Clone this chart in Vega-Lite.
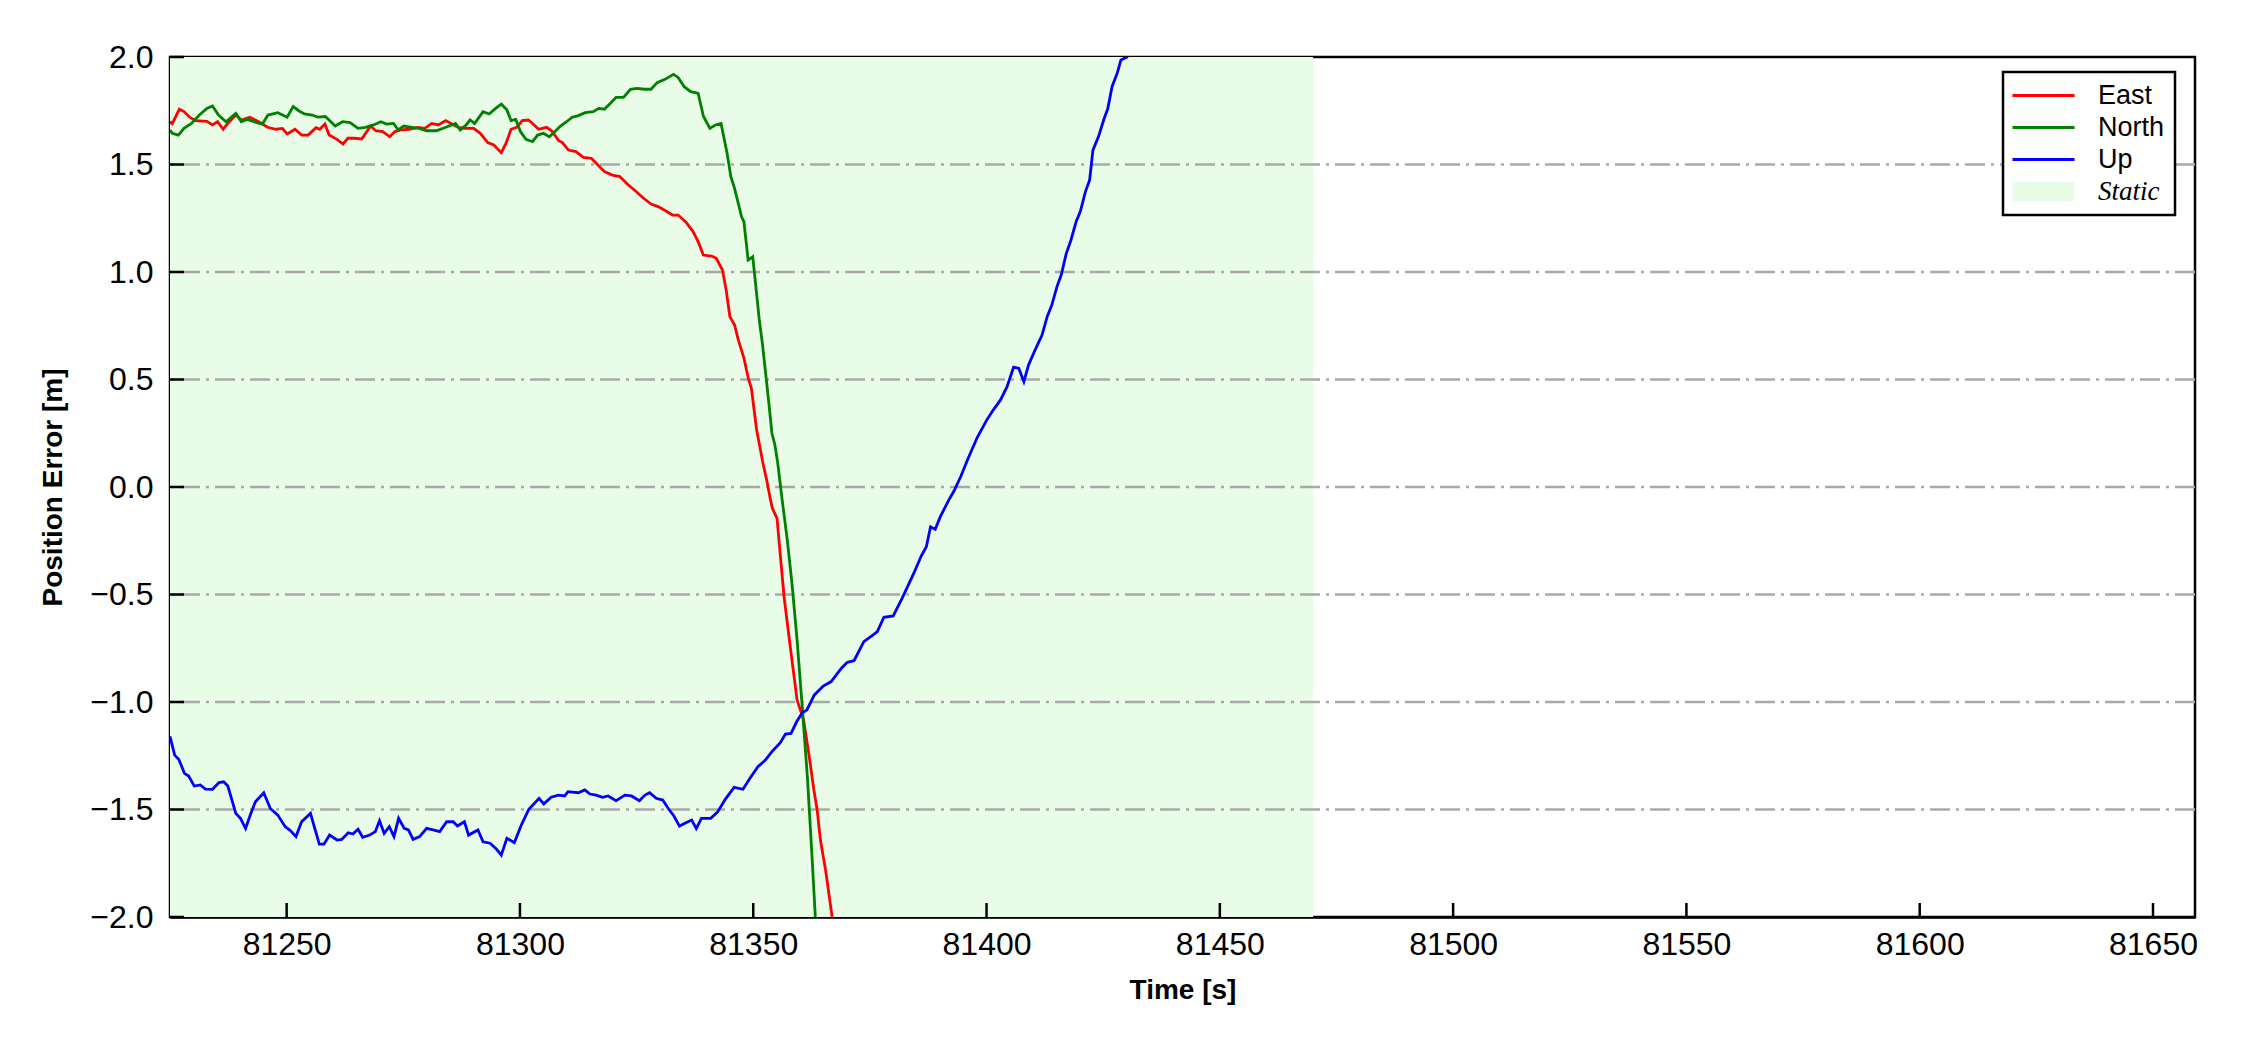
{
  "$schema": "https://vega.github.io/schema/vega-lite/v6.json",
  "width": 2025,
  "height": 860,
  "autosize": "none",
  "padding": {"left": 170, "top": 57, "right": 55, "bottom": 133},
  "background": "white",
  "config": {
    "view": {"stroke": "black", "strokeWidth": 2.5},
    "font": "Liberation Sans",
    "axis": {
      "domainColor": "black", "domainWidth": 2.5,
      "ticks": false, "tickSize": 0,
      "labelFont": "Liberation Sans", "labelFontSize": 32, "labelColor": "black",
      "titleFont": "Liberation Sans", "titleFontSize": 28, "titleFontWeight": "bold", "titleColor": "black",
      "grid": false
    },
    "legend": {
      "orient": "none", "legendX": 1833, "legendY": 15,
      "strokeColor": "black", "strokeWidth": 2.5, "fillColor": "white", "padding": 10,
      "symbolType": "M-3.1,0H3.1", "symbolSize": 400, "symbolStrokeWidth": 3, "symbolOffset": 17,
      "labelFont": "Liberation Sans", "labelFontSize": 27, "labelColor": "black", "labelOffset": 41,
      "rowPadding": 4
    }
  },
  "datasets": {
    "lines": [
{"t":81225.0,"v":1.70,"s":"East"},{"t":81225.5,"v":1.69,"s":"East"},{"t":81227.0,"v":1.757,"s":"East"},{"t":81228.0,"v":1.746,"s":"East"},{"t":81229.2,"v":1.72,"s":"East"},{"t":81230.5,"v":1.704,"s":"East"},{"t":81232.9,"v":1.701,"s":"East"},{"t":81234.1,"v":1.684,"s":"East"},{"t":81235.2,"v":1.699,"s":"East"},{"t":81236.4,"v":1.664,"s":"East"},{"t":81237.7,"v":1.699,"s":"East"},{"t":81239.1,"v":1.73,"s":"East"},{"t":81240.3,"v":1.707,"s":"East"},{"t":81242.1,"v":1.72,"s":"East"},{"t":81244.0,"v":1.699,"s":"East"},{"t":81245.9,"v":1.673,"s":"East"},{"t":81247.7,"v":1.664,"s":"East"},{"t":81249.1,"v":1.668,"s":"East"},{"t":81250.1,"v":1.642,"s":"East"},{"t":81251.8,"v":1.664,"s":"East"},{"t":81253.2,"v":1.637,"s":"East"},{"t":81254.6,"v":1.637,"s":"East"},{"t":81256.3,"v":1.671,"s":"East"},{"t":81257.1,"v":1.664,"s":"East"},{"t":81258.2,"v":1.688,"s":"East"},{"t":81259.1,"v":1.637,"s":"East"},{"t":81260.8,"v":1.617,"s":"East"},{"t":81262.1,"v":1.595,"s":"East"},{"t":81263.1,"v":1.622,"s":"East"},{"t":81264.5,"v":1.622,"s":"East"},{"t":81266.1,"v":1.619,"s":"East"},{"t":81268.0,"v":1.679,"s":"East"},{"t":81269.1,"v":1.657,"s":"East"},{"t":81270.6,"v":1.653,"s":"East"},{"t":81272.1,"v":1.629,"s":"East"},{"t":81273.2,"v":1.653,"s":"East"},{"t":81274.5,"v":1.661,"s":"East"},{"t":81276.3,"v":1.664,"s":"East"},{"t":81278.2,"v":1.673,"s":"East"},{"t":81279.6,"v":1.668,"s":"East"},{"t":81281.1,"v":1.691,"s":"East"},{"t":81282.5,"v":1.684,"s":"East"},{"t":81284.1,"v":1.704,"s":"East"},{"t":81285.4,"v":1.688,"s":"East"},{"t":81286.8,"v":1.673,"s":"East"},{"t":81288.2,"v":1.668,"s":"East"},{"t":81290.1,"v":1.668,"s":"East"},{"t":81291.5,"v":1.645,"s":"East"},{"t":81293.1,"v":1.602,"s":"East"},{"t":81294.4,"v":1.591,"s":"East"},{"t":81296.0,"v":1.555,"s":"East"},{"t":81297.0,"v":1.598,"s":"East"},{"t":81298.1,"v":1.664,"s":"East"},{"t":81299.3,"v":1.673,"s":"East"},{"t":81300.5,"v":1.704,"s":"East"},{"t":81301.8,"v":1.707,"s":"East"},{"t":81302.7,"v":1.691,"s":"East"},{"t":81304.0,"v":1.664,"s":"East"},{"t":81305.7,"v":1.673,"s":"East"},{"t":81306.8,"v":1.657,"s":"East"},{"t":81308.3,"v":1.611,"s":"East"},{"t":81309.1,"v":1.602,"s":"East"},{"t":81310.4,"v":1.567,"s":"East"},{"t":81312.0,"v":1.56,"s":"East"},{"t":81313.6,"v":1.533,"s":"East"},{"t":81315.3,"v":1.529,"s":"East"},{"t":81316.5,"v":1.502,"s":"East"},{"t":81318.1,"v":1.467,"s":"East"},{"t":81319.8,"v":1.451,"s":"East"},{"t":81321.4,"v":1.444,"s":"East"},{"t":81323.0,"v":1.409,"s":"East"},{"t":81324.7,"v":1.378,"s":"East"},{"t":81326.5,"v":1.343,"s":"East"},{"t":81328.1,"v":1.316,"s":"East"},{"t":81329.6,"v":1.304,"s":"East"},{"t":81331.2,"v":1.285,"s":"East"},{"t":81332.7,"v":1.265,"s":"East"},{"t":81333.9,"v":1.265,"s":"East"},{"t":81335.5,"v":1.234,"s":"East"},{"t":81337.1,"v":1.188,"s":"East"},{"t":81338.2,"v":1.141,"s":"East"},{"t":81339.3,"v":1.079,"s":"East"},{"t":81341.1,"v":1.074,"s":"East"},{"t":81342.1,"v":1.064,"s":"East"},{"t":81343.4,"v":1.009,"s":"East"},{"t":81344.2,"v":0.916,"s":"East"},{"t":81345.0,"v":0.792,"s":"East"},{"t":81346.0,"v":0.753,"s":"East"},{"t":81346.8,"v":0.684,"s":"East"},{"t":81348.0,"v":0.60,"s":"East"},{"t":81349.0,"v":0.50,"s":"East"},{"t":81349.6,"v":0.46,"s":"East"},{"t":81350.7,"v":0.27,"s":"East"},{"t":81352.0,"v":0.12,"s":"East"},{"t":81353.0,"v":0.02,"s":"East"},{"t":81353.7,"v":-0.06,"s":"East"},{"t":81354.1,"v":-0.099,"s":"East"},{"t":81355.1,"v":-0.146,"s":"East"},{"t":81355.9,"v":-0.34,"s":"East"},{"t":81356.6,"v":-0.51,"s":"East"},{"t":81357.4,"v":-0.65,"s":"East"},{"t":81358.3,"v":-0.805,"s":"East"},{"t":81359.4,"v":-0.991,"s":"East"},{"t":81360.8,"v":-1.084,"s":"East"},{"t":81361.9,"v":-1.239,"s":"East"},{"t":81363.0,"v":-1.409,"s":"East"},{"t":81363.7,"v":-1.502,"s":"East"},{"t":81364.4,"v":-1.642,"s":"East"},{"t":81365.5,"v":-1.781,"s":"East"},{"t":81366.9,"v":-1.998,"s":"East"},{"t":81368.0,"v":-2.2,"s":"East"},
{"t":81225.0,"v":1.66,"s":"North"},{"t":81225.5,"v":1.645,"s":"North"},{"t":81226.8,"v":1.637,"s":"North"},{"t":81228.0,"v":1.668,"s":"North"},{"t":81229.6,"v":1.691,"s":"North"},{"t":81231.3,"v":1.73,"s":"North"},{"t":81232.9,"v":1.761,"s":"North"},{"t":81234.1,"v":1.772,"s":"North"},{"t":81235.4,"v":1.73,"s":"North"},{"t":81237.0,"v":1.699,"s":"North"},{"t":81239.1,"v":1.738,"s":"North"},{"t":81240.3,"v":1.699,"s":"North"},{"t":81241.5,"v":1.71,"s":"North"},{"t":81243.6,"v":1.695,"s":"North"},{"t":81244.8,"v":1.688,"s":"North"},{"t":81246.0,"v":1.73,"s":"North"},{"t":81248.1,"v":1.741,"s":"North"},{"t":81250.1,"v":1.72,"s":"North"},{"t":81251.4,"v":1.769,"s":"North"},{"t":81252.6,"v":1.75,"s":"North"},{"t":81253.8,"v":1.735,"s":"North"},{"t":81255.5,"v":1.73,"s":"North"},{"t":81256.7,"v":1.72,"s":"North"},{"t":81258.3,"v":1.723,"s":"North"},{"t":81260.4,"v":1.679,"s":"North"},{"t":81262.0,"v":1.699,"s":"North"},{"t":81263.6,"v":1.695,"s":"North"},{"t":81265.3,"v":1.668,"s":"North"},{"t":81266.9,"v":1.673,"s":"North"},{"t":81268.6,"v":1.684,"s":"North"},{"t":81270.2,"v":1.699,"s":"North"},{"t":81271.4,"v":1.688,"s":"North"},{"t":81272.9,"v":1.691,"s":"North"},{"t":81273.9,"v":1.661,"s":"North"},{"t":81275.1,"v":1.679,"s":"North"},{"t":81276.8,"v":1.673,"s":"North"},{"t":81278.4,"v":1.668,"s":"North"},{"t":81280.0,"v":1.657,"s":"North"},{"t":81282.1,"v":1.657,"s":"North"},{"t":81284.1,"v":1.673,"s":"North"},{"t":81286.2,"v":1.691,"s":"North"},{"t":81287.2,"v":1.661,"s":"North"},{"t":81288.5,"v":1.684,"s":"North"},{"t":81289.3,"v":1.707,"s":"North"},{"t":81290.3,"v":1.691,"s":"North"},{"t":81292.1,"v":1.746,"s":"North"},{"t":81293.4,"v":1.735,"s":"North"},{"t":81294.8,"v":1.761,"s":"North"},{"t":81296.0,"v":1.781,"s":"North"},{"t":81297.2,"v":1.754,"s":"North"},{"t":81298.1,"v":1.704,"s":"North"},{"t":81299.1,"v":1.71,"s":"North"},{"t":81300.1,"v":1.653,"s":"North"},{"t":81301.3,"v":1.617,"s":"North"},{"t":81302.7,"v":1.606,"s":"North"},{"t":81303.8,"v":1.637,"s":"North"},{"t":81305.0,"v":1.645,"s":"North"},{"t":81306.3,"v":1.629,"s":"North"},{"t":81307.5,"v":1.653,"s":"North"},{"t":81308.7,"v":1.679,"s":"North"},{"t":81310.0,"v":1.699,"s":"North"},{"t":81311.2,"v":1.72,"s":"North"},{"t":81312.4,"v":1.726,"s":"North"},{"t":81314.0,"v":1.741,"s":"North"},{"t":81315.7,"v":1.746,"s":"North"},{"t":81316.9,"v":1.761,"s":"North"},{"t":81318.1,"v":1.757,"s":"North"},{"t":81319.4,"v":1.785,"s":"North"},{"t":81320.6,"v":1.812,"s":"North"},{"t":81322.2,"v":1.812,"s":"North"},{"t":81323.7,"v":1.85,"s":"North"},{"t":81325.1,"v":1.854,"s":"North"},{"t":81326.7,"v":1.85,"s":"North"},{"t":81328.1,"v":1.85,"s":"North"},{"t":81329.4,"v":1.881,"s":"North"},{"t":81331.1,"v":1.896,"s":"North"},{"t":81332.9,"v":1.919,"s":"North"},{"t":81333.9,"v":1.905,"s":"North"},{"t":81335.2,"v":1.862,"s":"North"},{"t":81336.6,"v":1.839,"s":"North"},{"t":81337.6,"v":1.834,"s":"North"},{"t":81338.2,"v":1.831,"s":"North"},{"t":81339.3,"v":1.726,"s":"North"},{"t":81340.7,"v":1.668,"s":"North"},{"t":81341.9,"v":1.684,"s":"North"},{"t":81343.1,"v":1.691,"s":"North"},{"t":81344.4,"v":1.552,"s":"North"},{"t":81345.2,"v":1.443,"s":"North"},{"t":81346.0,"v":1.389,"s":"North"},{"t":81347.5,"v":1.257,"s":"North"},{"t":81348.0,"v":1.234,"s":"North"},{"t":81348.9,"v":1.056,"s":"North"},{"t":81349.9,"v":1.071,"s":"North"},{"t":81351.3,"v":0.777,"s":"North"},{"t":81352.0,"v":0.66,"s":"North"},{"t":81352.7,"v":0.52,"s":"North"},{"t":81353.3,"v":0.40,"s":"North"},{"t":81354.0,"v":0.25,"s":"North"},{"t":81354.6,"v":0.20,"s":"North"},{"t":81355.2,"v":0.12,"s":"North"},{"t":81355.7,"v":0.03,"s":"North"},{"t":81356.2,"v":-0.06,"s":"North"},{"t":81357.3,"v":-0.247,"s":"North"},{"t":81358.3,"v":-0.448,"s":"North"},{"t":81359.4,"v":-0.712,"s":"North"},{"t":81360.5,"v":-1.022,"s":"North"},{"t":81361.6,"v":-1.347,"s":"North"},{"t":81362.6,"v":-1.719,"s":"North"},{"t":81363.3,"v":-1.998,"s":"North"},{"t":81364.0,"v":-2.2,"s":"North"},
{"t":81225.0,"v":-1.16,"s":"Up"},{"t":81226.0,"v":-1.247,"s":"Up"},{"t":81226.9,"v":-1.267,"s":"Up"},{"t":81228.1,"v":-1.332,"s":"Up"},{"t":81229.0,"v":-1.344,"s":"Up"},{"t":81230.2,"v":-1.391,"s":"Up"},{"t":81231.5,"v":-1.386,"s":"Up"},{"t":81232.6,"v":-1.405,"s":"Up"},{"t":81234.1,"v":-1.406,"s":"Up"},{"t":81235.5,"v":-1.375,"s":"Up"},{"t":81236.5,"v":-1.371,"s":"Up"},{"t":81237.4,"v":-1.391,"s":"Up"},{"t":81239.1,"v":-1.518,"s":"Up"},{"t":81240.1,"v":-1.541,"s":"Up"},{"t":81241.2,"v":-1.588,"s":"Up"},{"t":81242.2,"v":-1.526,"s":"Up"},{"t":81243.3,"v":-1.464,"s":"Up"},{"t":81245.1,"v":-1.422,"s":"Up"},{"t":81246.5,"v":-1.495,"s":"Up"},{"t":81248.1,"v":-1.526,"s":"Up"},{"t":81249.7,"v":-1.58,"s":"Up"},{"t":81250.8,"v":-1.598,"s":"Up"},{"t":81252.0,"v":-1.626,"s":"Up"},{"t":81253.2,"v":-1.557,"s":"Up"},{"t":81255.1,"v":-1.518,"s":"Up"},{"t":81257.0,"v":-1.661,"s":"Up"},{"t":81258.0,"v":-1.661,"s":"Up"},{"t":81259.2,"v":-1.619,"s":"Up"},{"t":81260.8,"v":-1.642,"s":"Up"},{"t":81261.8,"v":-1.639,"s":"Up"},{"t":81263.2,"v":-1.608,"s":"Up"},{"t":81264.2,"v":-1.614,"s":"Up"},{"t":81265.3,"v":-1.592,"s":"Up"},{"t":81266.3,"v":-1.629,"s":"Up"},{"t":81267.8,"v":-1.619,"s":"Up"},{"t":81269.0,"v":-1.603,"s":"Up"},{"t":81269.9,"v":-1.552,"s":"Up"},{"t":81270.9,"v":-1.611,"s":"Up"},{"t":81272.0,"v":-1.58,"s":"Up"},{"t":81273.0,"v":-1.626,"s":"Up"},{"t":81274.0,"v":-1.541,"s":"Up"},{"t":81275.2,"v":-1.588,"s":"Up"},{"t":81276.1,"v":-1.595,"s":"Up"},{"t":81277.1,"v":-1.639,"s":"Up"},{"t":81278.5,"v":-1.626,"s":"Up"},{"t":81280.0,"v":-1.588,"s":"Up"},{"t":81281.4,"v":-1.595,"s":"Up"},{"t":81282.8,"v":-1.603,"s":"Up"},{"t":81284.3,"v":-1.557,"s":"Up"},{"t":81285.7,"v":-1.557,"s":"Up"},{"t":81286.6,"v":-1.577,"s":"Up"},{"t":81288.1,"v":-1.557,"s":"Up"},{"t":81289.0,"v":-1.619,"s":"Up"},{"t":81291.0,"v":-1.595,"s":"Up"},{"t":81292.1,"v":-1.65,"s":"Up"},{"t":81293.6,"v":-1.657,"s":"Up"},{"t":81295.0,"v":-1.685,"s":"Up"},{"t":81296.0,"v":-1.712,"s":"Up"},{"t":81297.2,"v":-1.634,"s":"Up"},{"t":81298.8,"v":-1.654,"s":"Up"},{"t":81300.3,"v":-1.572,"s":"Up"},{"t":81301.9,"v":-1.499,"s":"Up"},{"t":81304.1,"v":-1.448,"s":"Up"},{"t":81305.1,"v":-1.474,"s":"Up"},{"t":81306.7,"v":-1.443,"s":"Up"},{"t":81308.2,"v":-1.433,"s":"Up"},{"t":81309.6,"v":-1.437,"s":"Up"},{"t":81310.3,"v":-1.417,"s":"Up"},{"t":81312.5,"v":-1.422,"s":"Up"},{"t":81313.9,"v":-1.409,"s":"Up"},{"t":81315.0,"v":-1.428,"s":"Up"},{"t":81316.3,"v":-1.433,"s":"Up"},{"t":81317.7,"v":-1.443,"s":"Up"},{"t":81318.9,"v":-1.437,"s":"Up"},{"t":81320.6,"v":-1.459,"s":"Up"},{"t":81322.5,"v":-1.433,"s":"Up"},{"t":81323.9,"v":-1.437,"s":"Up"},{"t":81325.6,"v":-1.459,"s":"Up"},{"t":81326.8,"v":-1.433,"s":"Up"},{"t":81327.8,"v":-1.422,"s":"Up"},{"t":81329.2,"v":-1.448,"s":"Up"},{"t":81330.6,"v":-1.456,"s":"Up"},{"t":81331.9,"v":-1.499,"s":"Up"},{"t":81333.0,"v":-1.53,"s":"Up"},{"t":81334.2,"v":-1.577,"s":"Up"},{"t":81335.7,"v":-1.561,"s":"Up"},{"t":81336.8,"v":-1.549,"s":"Up"},{"t":81337.8,"v":-1.588,"s":"Up"},{"t":81338.9,"v":-1.541,"s":"Up"},{"t":81340.9,"v":-1.541,"s":"Up"},{"t":81342.4,"v":-1.51,"s":"Up"},{"t":81344.0,"v":-1.453,"s":"Up"},{"t":81345.9,"v":-1.397,"s":"Up"},{"t":81347.8,"v":-1.406,"s":"Up"},{"t":81349.3,"v":-1.355,"s":"Up"},{"t":81351.0,"v":-1.301,"s":"Up"},{"t":81352.6,"v":-1.27,"s":"Up"},{"t":81354.0,"v":-1.231,"s":"Up"},{"t":81355.8,"v":-1.189,"s":"Up"},{"t":81356.9,"v":-1.149,"s":"Up"},{"t":81358.1,"v":-1.146,"s":"Up"},{"t":81359.3,"v":-1.092,"s":"Up"},{"t":81360.5,"v":-1.05,"s":"Up"},{"t":81361.5,"v":-1.037,"s":"Up"},{"t":81363.1,"v":-0.967,"s":"Up"},{"t":81365.0,"v":-0.926,"s":"Up"},{"t":81366.7,"v":-0.905,"s":"Up"},{"t":81368.9,"v":-0.843,"s":"Up"},{"t":81370.1,"v":-0.816,"s":"Up"},{"t":81371.6,"v":-0.808,"s":"Up"},{"t":81373.7,"v":-0.719,"s":"Up"},{"t":81375.7,"v":-0.688,"s":"Up"},{"t":81376.6,"v":-0.673,"s":"Up"},{"t":81378.0,"v":-0.606,"s":"Up"},{"t":81380.0,"v":-0.6,"s":"Up"},{"t":81381.9,"v":-0.518,"s":"Up"},{"t":81384.4,"v":-0.402,"s":"Up"},{"t":81386.0,"v":-0.321,"s":"Up"},{"t":81387.1,"v":-0.278,"s":"Up"},{"t":81388.0,"v":-0.185,"s":"Up"},{"t":81389.0,"v":-0.197,"s":"Up"},{"t":81390.1,"v":-0.138,"s":"Up"},{"t":81391.9,"v":-0.061,"s":"Up"},{"t":81393.0,"v":-0.02,"s":"Up"},{"t":81394.5,"v":0.05,"s":"Up"},{"t":81396.0,"v":0.13,"s":"Up"},{"t":81398.0,"v":0.23,"s":"Up"},{"t":81400.0,"v":0.31,"s":"Up"},{"t":81401.5,"v":0.36,"s":"Up"},{"t":81403.0,"v":0.405,"s":"Up"},{"t":81404.4,"v":0.467,"s":"Up"},{"t":81405.8,"v":0.557,"s":"Up"},{"t":81406.9,"v":0.552,"s":"Up"},{"t":81408.0,"v":0.49,"s":"Up"},{"t":81409.0,"v":0.567,"s":"Up"},{"t":81410.4,"v":0.637,"s":"Up"},{"t":81411.9,"v":0.707,"s":"Up"},{"t":81413.0,"v":0.792,"s":"Up"},{"t":81414.0,"v":0.847,"s":"Up"},{"t":81415.1,"v":0.932,"s":"Up"},{"t":81416.0,"v":0.986,"s":"Up"},{"t":81417.1,"v":1.087,"s":"Up"},{"t":81418.1,"v":1.149,"s":"Up"},{"t":81419.2,"v":1.234,"s":"Up"},{"t":81420.1,"v":1.281,"s":"Up"},{"t":81421.2,"v":1.374,"s":"Up"},{"t":81422.1,"v":1.428,"s":"Up"},{"t":81422.8,"v":1.567,"s":"Up"},{"t":81424.0,"v":1.63,"s":"Up"},{"t":81425.1,"v":1.707,"s":"Up"},{"t":81426.0,"v":1.761,"s":"Up"},{"t":81426.9,"v":1.862,"s":"Up"},{"t":81428.0,"v":1.924,"s":"Up"},{"t":81428.8,"v":1.986,"s":"Up"},{"t":81430.1,"v":2.0,"s":"Up"},{"t":81431.0,"v":2.2,"s":"Up"}
    ],
    "static": [{"start": 81225, "end": 81470, "label": "Static"}],
    "grid": [{"g": -1.5}, {"g": -1.0}, {"g": -0.5}, {"g": 0.0}, {"g": 0.5}, {"g": 1.0}, {"g": 1.5}],
    "xticks": [{"tk": 81250}, {"tk": 81300}, {"tk": 81350}, {"tk": 81400}, {"tk": 81450}, {"tk": 81500}, {"tk": 81550}, {"tk": 81600}, {"tk": 81650}],
    "yticks": [{"tk": -2}, {"tk": -1.5}, {"tk": -1}, {"tk": -0.5}, {"tk": 0}, {"tk": 0.5}, {"tk": 1}, {"tk": 1.5}, {"tk": 2}]
  },
  "layer": [
    {
      "data": {"name": "static"},
      "mark": {"type": "rect", "fill": "#e8fce8", "clip": true},
      "encoding": {
        "x": {"field": "start", "type": "quantitative", "title": "Time [s]", "scale": {"domain": [81225, 81659], "nice": false, "zero": false},
              "axis": {"title": "Time [s]", "values": [81250, 81300, 81350, 81400, 81450, 81500, 81550, 81600, 81650], "format": "d",
                       "labelPadding": 12.6, "titlePadding": 16}},
        "x2": {"field": "end"}
      }
    },
    {
      "data": {"name": "grid"},
      "mark": {"type": "rule", "color": "#a9a9a9", "strokeWidth": 2.5, "strokeDash": [20, 6, 3, 6]},
      "encoding": {
        "y": {"field": "g", "type": "quantitative", "title": "Position Error [m]"}
      }
    },
    {
      "data": {"name": "lines"},
      "mark": {"type": "line", "strokeWidth": 2.8, "clip": true},
      "encoding": {
        "x": {"field": "t", "type": "quantitative", "title": "Time [s]"},
        "y": {"field": "v", "type": "quantitative", "title": "Position Error [m]", "scale": {"domain": [-2, 2], "nice": false, "zero": false},
              "axis": {"title": "Position Error [m]", "values": [-2, -1.5, -1, -0.5, 0, 0.5, 1, 1.5, 2], "format": ".1f",
                       "labelPadding": 17, "titlePadding": 22}},
        "color": {"field": "s", "type": "nominal",
                  "scale": {"domain": ["East", "North", "Up", "Static"], "range": ["#ff0000", "#008000", "#0000ff", "#e8fce8"]},
                  "legend": {"title": null,
                             "encode": {
                               "symbols": {"update": {
                                 "shape": {"signal": "datum.value === 'Static' ? 'M-3.1,-0.95H3.1V0.95H-3.1Z' : 'M-3.1,0H3.1'"},
                                 "fill": {"signal": "datum.value === 'Static' ? '#e8fce8' : 'transparent'"},
                                 "strokeWidth": {"signal": "datum.value === 'Static' ? 0 : 3"}}},
                               "labels": {"update": {"font": {"signal": "datum.value === 'Static' ? 'Liberation Serif' : 'Liberation Sans'"},
                                                     "fontStyle": {"signal": "datum.value === 'Static' ? 'italic' : 'normal'"}}}
                             }}},
        "order": {"field": "t", "type": "quantitative"}
      }
    },
    {
      "data": {"name": "xticks"},
      "mark": {"type": "rule", "strokeWidth": 2.5, "color": "black"},
      "encoding": {
        "x": {"field": "tk", "type": "quantitative", "title": "Time [s]"},
        "y": {"datum": -2},
        "y2": {"datum": -1.935}
      }
    },
    {
      "data": {"name": "yticks"},
      "mark": {"type": "rule", "strokeWidth": 2.5, "color": "black"},
      "encoding": {
        "y": {"field": "tk", "type": "quantitative", "title": "Position Error [m]"},
        "x": {"datum": 81225},
        "x2": {"datum": 81228}
      }
    }
  ]
}
